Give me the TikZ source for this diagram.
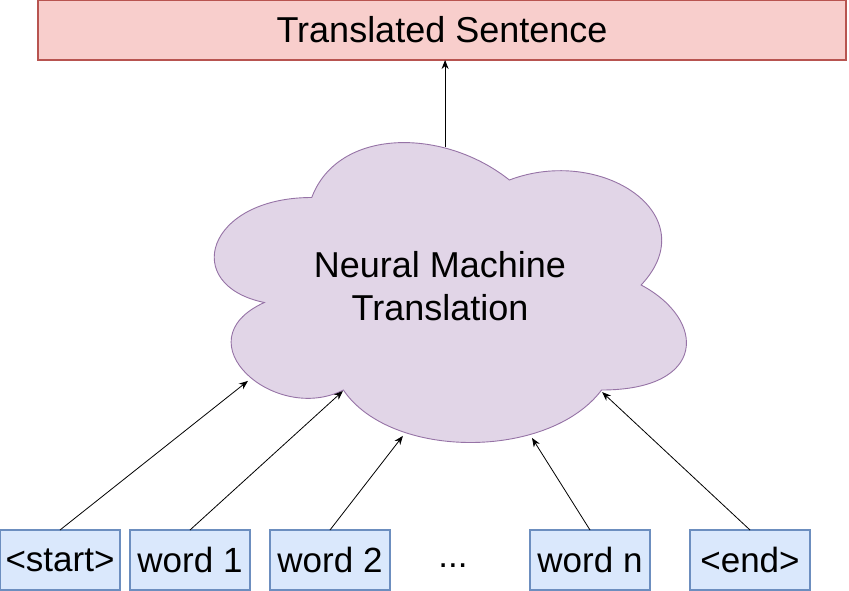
\documentclass[tikz,border=0pt]{standalone}
\usepackage{fontspec}
\setmainfont{Liberation Sans}
\usepackage{xcolor}
\usetikzlibrary{positioning, arrows.meta}
\definecolor{redfill}{HTML}{F8CECC}
\definecolor{redline}{HTML}{B85450}
\definecolor{bluefill}{HTML}{DAE8FC}
\definecolor{blueline}{HTML}{6C8EBF}
\definecolor{purplefill}{HTML}{E1D5E7}
\definecolor{purpleline}{HTML}{9673A6}
\tikzset{
  word/.style={rectangle, draw=blueline, fill=bluefill, line width=1.2pt, inner sep=0pt, outer sep=0pt, minimum width=120pt, minimum height=60pt, font=\fontsize{35}{42}\selectfont},
  sentence/.style={rectangle, draw=redline, fill=redfill, line width=1.2pt, inner sep=0pt, outer sep=0pt, minimum width=808pt, minimum height=60pt, font=\fontsize{36}{43}\selectfont},
  cloudline/.style={draw=purpleline, fill=purplefill, line width=0.9pt},
  arrow/.style={line width=0.8pt, -{Stealth[length=9pt, width=7pt]}},
}

\begin{document}
\begin{tikzpicture}[x=1pt, y=-1pt]
        \useasboundingbox (0,0) rectangle (849,591);

        % Output sentence
        \node[sentence] (sentence) at (442,30) {Translated Sentence};

        % Cloud
        \begin{scope}[xshift=180pt, yshift=-110pt, x=527pt, y=-350pt]
          \draw[cloudline] (0.25,0.25) .. controls (0.05,0.25) and (0,0.5) .. (0.16,0.55)
            .. controls (0,0.66) and (0.18,0.9) .. (0.31,0.8)
            .. controls (0.4,1) and (0.7,1) .. (0.8,0.8)
            .. controls (1,0.8) and (1,0.6) .. (0.875,0.5)
            .. controls (1,0.3) and (0.8,0.1) .. (0.625,0.2)
            .. controls (0.5,0.05) and (0.3,0.05) .. (0.25,0.25) -- cycle;
          \coordinate (top) at (0.503,0.107);
          \coordinate (in1) at (0.129,0.774);
          \coordinate (in2) at (0.309,0.803);
          \coordinate (in3) at (0.423,0.931);
          \coordinate (in4) at (0.668,0.937);
          \coordinate (in5) at (0.801,0.806);
        \end{scope}
        \node[align=center, inner sep=0pt, font=\fontsize{36}{43}\selectfont] (nmt) at (440,286) {Neural Machine\\Translation};

        % Input words
        \node[word] (start) at (60,560) {<start>};
        \node[word, right=10pt of start] (word1) {word 1};
        \node[word, right=20pt of word1] (word2) {word 2};
        \node[anchor=base, inner sep=0pt, font=\fontsize{35}{42}\selectfont] (dots) at (453,567) {...};
        \node[word, right=140pt of word2] (wordn) {word n};
        \node[word, right=40pt of wordn] (end) {<end>};

        % Connections
        \draw[arrow] (top) -- (top |- sentence.south);
        \draw[arrow] (start.north) -- (in1);
        \draw[arrow] (word1.north) -- (in2);
        \draw[arrow] (word2.north) -- (in3);
        \draw[arrow] (wordn.north) -- (in4);
        \draw[arrow] (end.north) -- (in5);
\end{tikzpicture}
\end{document}
